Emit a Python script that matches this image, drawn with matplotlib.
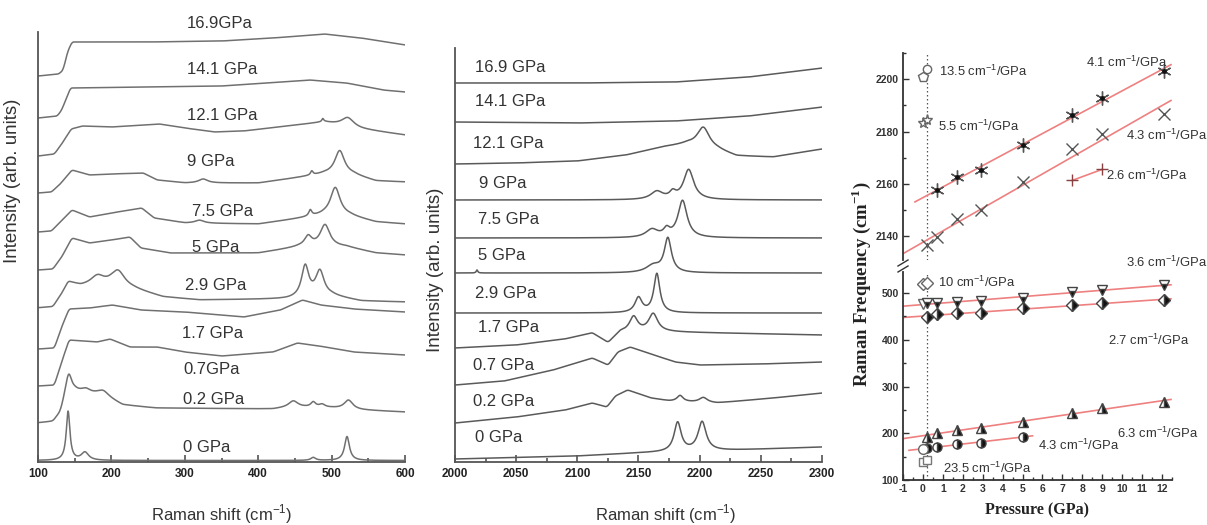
import numpy as np
import matplotlib.pyplot as plt
from matplotlib.ticker import MultipleLocator
from matplotlib.lines import Line2D

plt.rcParams['font.family'] = ['Liberation Sans Narrow', 'Liberation Sans', 'DejaVu Sans']
plt.rcParams['axes.unicode_minus'] = False
plt.rcParams['mathtext.fontset'] = 'custom'
plt.rcParams['mathtext.rm'] = 'Liberation Sans'
plt.rcParams['mathtext.bf'] = 'Liberation Serif:bold'

# === DATA: low-frequency Raman spectra (100-600 cm-1), offset stacked ===
low_labels = ['16.9GPa', '14.1 GPa', '12.1 GPa', '9 GPa', '7.5 GPa', '5 GPa',
              '2.9 GPa', '1.7 GPa', '0.7GPa', '0.2 GPa', '0 GPa']
# baseline knots (shift, intensity)
low_base = [
    [(100, 386), (128, 388), (134, 392), (140, 410), (146, 420), (250, 420), (350, 421), (420, 424), (490, 428), (540, 424), (600, 417)],
    [(100, 344), (126, 346), (132, 352), (144, 374), (250, 375), (350, 376), (470, 382), (520, 379), (570, 372), (600, 370)],
    [(100, 306), (122, 308), (132, 318), (145, 333), (160, 336), (200, 335), (265, 338), (300, 334), (340, 330), (380, 331), (440, 336), (490, 340), (540, 333), (600, 327)],
    [(100, 269), (118, 270), (130, 278), (146, 292), (170, 287), (200, 288), (243, 289), (262, 282), (300, 279), (400, 279), (460, 285), (490, 288), (530, 287), (560, 281), (600, 280)],
    [(100, 230), (118, 231), (130, 240), (146, 252), (170, 245), (200, 249), (241, 254), (258, 244), (300, 239), (400, 238), (460, 244), (490, 247), (525, 246), (560, 240), (600, 238)],
    [(100, 192), (120, 193), (132, 205), (146, 224), (170, 219), (200, 222), (225, 225), (240, 214), (280, 209), (400, 209), (455, 215), (520, 215), (560, 209), (600, 207)],
    [(100, 154), (120, 155), (132, 168), (141, 180), (158, 176), (200, 177), (230, 173), (270, 165), (320, 162), (440, 163), (500, 166), (540, 161), (600, 160)],
    [(100, 113), (122, 114), (132, 135), (142, 153), (170, 154), (201, 157), (240, 152), (300, 150), (380, 145), (430, 152), (460, 162), (485, 157), (530, 153), (600, 150)],
    [(100, 76), (122, 77), (132, 100), (142, 122), (180, 120), (198, 123), (225, 115), (262, 115), (300, 110), (350, 106), (420, 110), (453, 119), (483, 116), (530, 110), (600, 107)],
    [(100, 39), (120, 40), (130, 48), (138, 66), (150, 70), (190, 66), (215, 57), (260, 54), (420, 53), (445, 55), (500, 54), (540, 52), (600, 50)],
    [(100, 1.5), (600, 1.5)],
]
# peaks (centre, height, fwhm)
low_peaks = [
    [],
    [],
    [(522, 9, 20), (488, 3, 3)],
    [(325, 4, 15), (473, 4, 4), (511, 24, 16)],
    [(320, 3, 15), (471, 6, 5), (505, 28, 16)],
    [(468, 10, 12), (491, 22, 16)],
    [(181, 9, 22), (209, 15, 22), (464, 31, 12), (484, 25, 14)],
    [],
    [],
    [(142, 20, 10), (165, 4, 15), (188, 5, 20), (448, 6, 15), (475, 5, 8), (487, 3, 10), (523, 9, 14)],
    [(141, 49, 6), (164, 8, 12), (475, 3, 8), (521, 24, 8)],
]

# === DATA: C-N stretching region (2000-2300 cm-1) ===
high_labels = ['16.9 GPa', '14.1 GPa', '12.1 GPa', '9 GPa', '7.5 GPa', '5 GPa',
               '2.9 GPa', '1.7 GPa', '0.7 GPa', '0.2 GPa', '0 GPa']
high_base = [
    [(2000, 379), (2100, 379), (2180, 380), (2240, 385), (2300, 394)],
    [(2000, 340), (2100, 339), (2180, 341), (2240, 346), (2300, 355)],
    [(2000, 298), (2050, 299), (2100, 301), (2140, 307), (2170, 315), (2190, 318), (2215, 312), (2230, 306), (2260, 305), (2300, 313)],
    [(2000, 262), (2300, 262)],
    [(2000, 224), (2300, 224)],
    [(2000, 189), (2300, 189)],
    [(2000, 149), (2300, 149)],
    [(2000, 114), (2050, 117), (2090, 123), (2112, 129), (2125, 119), (2135, 130), (2175, 130), (2300, 127)],
    [(2000, 77), (2040, 81), (2080, 92), (2112, 104), (2125, 97), (2133, 110), (2143, 115), (2160, 108), (2180, 100), (2200, 97), (2250, 98), (2300, 100)],
    [(2000, 39), (2050, 45), (2090, 52), (2112, 59), (2124, 55), (2131, 66), (2141, 72), (2160, 64), (2175, 61), (2192, 60), (2214, 59), (2260, 64), (2300, 69)],
    [(2000, 3), (2100, 6), (2150, 9), (2230, 12), (2300, 15)],
]
high_peaks = [
    [],
    [],
    [(2203, 20, 12)],
    [(2165, 8, 12), (2178, 6, 6), (2191, 30, 10)],
    [(2161, 8, 12), (2173, 7, 6), (2186, 37, 9)],
    [(2018, 3, 1.5), (2162, 7, 14), (2174, 34, 7)],
    [(2150, 15, 7), (2165, 39, 6)],
    [(2146, 15, 8), (2162, 18, 9)],
    [],
    [(2184, 6, 6), (2203, 5, 8)],
    [(2182, 29, 7), (2202, 29, 8)],
]

# === DATA: mode frequencies vs pressure ===
p_ast = [0.7, 1.7, 2.9, 5, 7.5, 9, 12.1]
f_ast = [2157.6, 2162.6, 2165.2, 2174.8, 2186.2, 2192.7, 2203.1]
p_x = [0.2, 0.7, 1.7, 2.9, 5, 7.5, 9, 12.1]
f_x = [2136.6, 2139.6, 2146.5, 2150.0, 2160.6, 2173.2, 2179.0, 2186.6]
p_plus = [7.5, 9]
f_plus = [2161.4, 2165.6]
p_dtri = [0.2, 0.7, 1.7, 2.9, 5, 7.5, 9, 12.1]
f_dtri = [478, 478, 481, 483.6, 490, 501.5, 506.4, 517]
p_dia = [0.2, 0.7, 1.7, 2.9, 5, 7.5, 9, 12.1]
f_dia = [448, 455, 456.5, 458, 467, 474.3, 478, 485]
p_utri = [0.2, 0.7, 1.7, 2.9, 5, 7.5, 9, 12.1]
f_utri = [192.6, 201, 207, 212, 224.7, 244, 253, 267.5]
p_circ = [0.2, 0.7, 1.7, 2.9, 5]
f_circ = [167.8, 171, 176, 180, 192.6]
# near-ambient modes that vanish quickly
p_opcirc_hi, f_opcirc_hi = [0.2], [2204]
p_pent, f_pent = [0.0], [2201]
p_star, f_star = [0.0, 0.2], [2183.3, 2184.3]
p_opdtri, f_opdtri = [0.0], [477]
p_opdia, f_opdia = [0.0, 0.2], [519, 522]
p_opcirc, f_opcirc = [0.0], [166]
p_sq, f_sq = [0.0, 0.2], [138, 142]

slopes_up = ['13.5', '5.5', '4.1', '4.3', '2.6']
slopes_lo = ['3.6', '10', '2.7', '6.3', '4.3', '23.5']


def spectrum(x, knots, peaks, n):
    kx, ky = zip(*knots)
    y = np.interp(x, kx, ky)
    pad = np.pad(y, n, mode='edge')
    y = np.convolve(pad, np.ones(n) / n, mode='same')[n:-n]
    for c, h, w in peaks:
        y = y + h / (1 + ((x - c) / (w / 2)) ** 2)
    return y


W, H = 1207, 525
fig = plt.figure(figsize=(W / 100, H / 100), dpi=100)
spec_col = '#707070'
txt_col = '#333333'
lab_font = ['Liberation Sans', 'DejaVu Sans']


def style_spec_axis(ax):
    for s in ['top', 'right']:
        ax.spines[s].set_visible(False)
    for s in ['left', 'bottom']:
        ax.spines[s].set_color('#555555')
        ax.spines[s].set_linewidth(1.3)
    ax.set_yticks([])
    ax.tick_params(axis='x', which='both', direction='in', colors='#444444', width=1.1,
                   labelsize=8.5, pad=4)
    ax.tick_params(axis='x', which='major', length=5)
    ax.tick_params(axis='x', which='minor', length=3)
    for t in ax.get_xticklabels():
        t.set_fontweight('bold')
        t.set_color('#222222')


# === PANEL 1 ===
ax1 = fig.add_axes([38 / W, 1 - 462 / H, 367 / W, 430 / H])
x1 = np.linspace(100, 600, 1001)
for b, pk in zip(low_base, low_peaks):
    ax1.plot(x1, spectrum(x1, b, pk, 10), color=spec_col, lw=1.1)
low_lab_x = [303, 303, 303, 303, 310, 310, 300, 296, 298, 298, 298]
low_lab_y = [439, 392, 347, 300, 250, 215, 177, 129, 92, 62, 15]
for t, lx, ly in zip(low_labels, low_lab_x, low_lab_y):
    ax1.text(lx, ly, t, fontsize=12, color=txt_col, family=lab_font, va='center',
             clip_on=False)
ax1.set_xlim(100, 600)
ax1.set_ylim(0, 430)
ax1.xaxis.set_major_locator(MultipleLocator(100))
ax1.xaxis.set_minor_locator(MultipleLocator(50))
style_spec_axis(ax1)
fig.text(222 / W, 1 - 514 / H, 'Raman shift (cm$^{-1}$)', fontsize=12, color=txt_col,
         family=lab_font, ha='center', va='center')
fig.text(13 / W, 1 - 181 / H, 'Intensity (arb. units)', fontsize=13.5, color=txt_col,
         family=lab_font, ha='center', va='center', rotation=90)

# === PANEL 2 ===
ax2 = fig.add_axes([455 / W, 1 - 462 / H, 367 / W, 414 / H])
x2 = np.linspace(2000, 2300, 1201)
for b, pk in zip(high_base, high_peaks):
    ax2.plot(x2, spectrum(x2, b, pk, 12), color='#5a5a5a', lw=1.1)
high_lab_x = [2016, 2016, 2015, 2020, 2019, 2019, 2016, 2019, 2015, 2015, 2016]
high_lab_y = [395, 360, 319, 279, 242, 207, 169, 134, 97, 60, 24]
for t, lx, ly in zip(high_labels, high_lab_x, high_lab_y):
    ax2.text(lx, ly, t, fontsize=12, color=txt_col, family=lab_font, va='center')
ax2.set_xlim(2000, 2300)
ax2.set_ylim(0, 414)
ax2.xaxis.set_major_locator(MultipleLocator(50))
ax2.xaxis.set_minor_locator(MultipleLocator(25))
style_spec_axis(ax2)
fig.text(666 / W, 1 - 514 / H, 'Raman shift (cm$^{-1}$)', fontsize=12, color=txt_col,
         family=lab_font, ha='center', va='center')
fig.text(435 / W, 1 - 270 / H, 'Intensity (arb. units)', fontsize=13.5, color=txt_col,
         family=lab_font, ha='center', va='center', rotation=90)

# === PANEL 3 (broken y axis) ===
ax_up = fig.add_axes([903 / W, 1 - 260 / H, 269 / W, 207 / H])
ax_lo = fig.add_axes([903 / W, 1 - 480 / H, 269 / W, 208 / H])
fit_col = '#ee8080'
mk_col = '#444444'


def fit_line(ax, p, f, x0, x1_):
    k, c = np.polyfit(p, f, 1)
    xs = np.array([x0, x1_])
    ax.plot(xs, k * xs + c, color=fit_col, lw=1.2, zorder=1)


fit_line(ax_up, p_ast, f_ast, -0.4, 12.45)
fit_line(ax_up, p_x, f_x, -1, 12.45)
fit_line(ax_up, p_plus, f_plus, 7.5, 9)
ax_up.plot(p_ast, f_ast, ls='none', marker=(6, 2, 0), ms=10, color='#555555', mew=1.0)
ax_up.plot(p_ast, f_ast, ls='none', marker='o', ms=2.5, color='#111111')
ax_up.plot(p_x, f_x, ls='none', marker='x', ms=9, color='#555555', mew=1.0)
ax_up.plot(p_plus, f_plus, ls='none', marker='+', ms=8, color='#8a4040', mew=1.0)
ax_up.plot(p_opcirc_hi, f_opcirc_hi, ls='none', marker='o', ms=6, mfc='white', mec='#666666')
ax_up.plot(p_pent, f_pent, ls='none', marker='p', ms=7, mfc='white', mec='#666666')
ax_up.plot(p_star, f_star, ls='none', marker='*', ms=8, mfc='white', mec='#666666')

fit_line(ax_lo, p_dtri, f_dtri, -1, 12.45)
fit_line(ax_lo, p_dia, f_dia, -1, 12.45)
fit_line(ax_lo, p_utri, f_utri, -1, 12.45)
fit_line(ax_lo, p_circ, f_circ, -0.7, 5.5)
ax_lo.plot(p_opdtri, f_opdtri, ls='none', marker='v', ms=7, mfc='white', mec='#666666')
ax_lo.plot(p_dtri, f_dtri, ls='none', marker='v', ms=7, fillstyle='bottom', mfc='#111111',
           markerfacecoloralt='white', mec=mk_col)
ax_lo.plot(p_dia, f_dia, ls='none', marker='D', ms=6, fillstyle='right', mfc='#111111',
           markerfacecoloralt='white', mec=mk_col)
ax_lo.plot(p_opdia, f_opdia, ls='none', marker='D', ms=6, mfc='white', mec='#666666')
ax_lo.plot(p_utri, f_utri, ls='none', marker='^', ms=7, fillstyle='right', mfc='#111111',
           markerfacecoloralt='white', mec=mk_col)
ax_lo.plot(p_circ, f_circ, ls='none', marker='o', ms=6.5, fillstyle='right', mfc='#111111',
           markerfacecoloralt='white', mec=mk_col)
ax_lo.plot(p_opcirc, f_opcirc, ls='none', marker='o', ms=7, mfc='white', mec='#666666')
ax_lo.plot(p_sq, f_sq, ls='none', marker='s', ms=6, mfc='white', mec='#777777')

ann = dict(fontsize=9.4, color=txt_col, family=lab_font, va='center', clip_on=False)
up_pos = [(0.79, 2203.1), (0.74, 2182), (8.16, 2206.5), (10.2, 2178.6), (9.2, 2163.3)]
for s, (px, py) in zip(slopes_up, up_pos):
    ax_up.text(px, py, s + ' cm$^{-1}$/GPa', **ann)
lo_pos = [(10.2, 566), (0.74, 522), (9.3, 399.5), (9.75, 200), (5.77, 175), (1.0, 125.6)]
for s, (px, py) in zip(slopes_lo, lo_pos):
    ax_lo.text(px, py, s + ' cm$^{-1}$/GPa', **ann)

for ax in (ax_up, ax_lo):
    ax.axvline(0.2, color='#555555', ls=(0, (1.2, 2)), lw=0.9, zorder=0)
    ax.set_xlim(-1, 12.5)
    ax.spines['top'].set_visible(False)
    ax.spines['right'].set_visible(False)
    ax.spines['left'].set_color('#333333')
    ax.spines['left'].set_linewidth(1.3)
    ax.tick_params(which='both', direction='in', colors='#333333', width=1.0,
                   labelsize=7.5, pad=3)
    ax.tick_params(which='major', length=4)
    ax.tick_params(which='minor', length=2.5)

ax_up.spines['bottom'].set_visible(False)
ax_up.set_xticks([])
ax_up.set_ylim(2131, 2210)
ax_up.yaxis.set_major_locator(MultipleLocator(20))
ax_up.yaxis.set_minor_locator(MultipleLocator(10))
ax_lo.set_ylim(100, 545)
ax_lo.yaxis.set_major_locator(MultipleLocator(100))
ax_lo.yaxis.set_minor_locator(MultipleLocator(50))
ax_lo.xaxis.set_major_locator(MultipleLocator(1))
ax_lo.xaxis.set_minor_locator(MultipleLocator(0.5))
ax_lo.spines['bottom'].set_color('#333333')
ax_lo.spines['bottom'].set_linewidth(1.3)
for ax in (ax_up, ax_lo):
    for t in ax.get_xticklabels() + ax.get_yticklabels():
        t.set_fontweight('bold')

# break marks on the y axis
for y0 in (262, 268):
    fig.add_artist(Line2D([898 / W, 908 / W], [1 - (y0 + 4) / H, 1 - (y0 - 2) / H],
                          color='#333333', lw=1.0))

fig.text(861 / W, 1 - 284 / H, r'Raman Frequency (cm$^{\mathbf{-1}}$)', fontsize=13.5,
         family=['Liberation Serif', 'DejaVu Serif'], fontweight='bold', color='#222222',
         ha='center', va='center', rotation=90)
fig.text(1037 / W, 1 - 510 / H, 'Pressure (GPa)', fontsize=11.5,
         family=['Liberation Serif', 'DejaVu Serif'], fontweight='bold', color='#222222',
         ha='center', va='center')

fig.savefig('out.png', dpi=100, facecolor='white')
